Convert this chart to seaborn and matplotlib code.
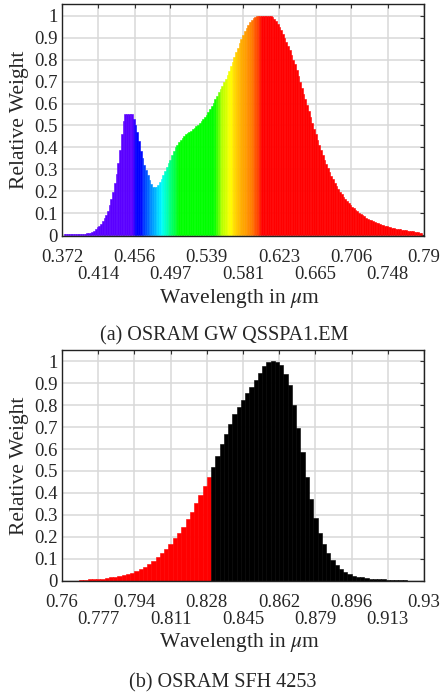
import numpy as np
import pandas as pd
import matplotlib
matplotlib.use("Agg")
import matplotlib.pyplot as plt
from matplotlib.colors import LinearSegmentedColormap, Normalize
import seaborn as sns

# ---------------- data ----------------
# (a) OSRAM GW QSSPA1.EM : 2 nm bins starting at 0.374 um
top_start = 0.374
top_step = 0.002
top_values = [
    0.004, 0.004, 0.004, 0.004, 0.004, 0.004, 0.005, 0.005, 0.005, 0.006,   # 0.374-0.392
    0.006, 0.007, 0.008, 0.009, 0.010, 0.012, 0.014, 0.021, 0.028, 0.036,   # 0.394-0.412
    0.044, 0.053, 0.065, 0.078, 0.093, 0.112, 0.136, 0.165, 0.197, 0.236,   # 0.414-0.432
    0.278, 0.330, 0.388, 0.460, 0.520, 0.552, 0.552, 0.552, 0.552, 0.552,   # 0.434-0.452
    0.530, 0.500, 0.470, 0.430, 0.385, 0.350, 0.320, 0.298, 0.275, 0.252,   # 0.454-0.472
    0.235, 0.222, 0.218, 0.222, 0.230, 0.242, 0.258, 0.275, 0.293, 0.312,   # 0.474-0.492
    0.328, 0.345, 0.366, 0.385, 0.400, 0.413, 0.425, 0.436, 0.445, 0.453,   # 0.494-0.512
    0.459, 0.465, 0.470, 0.475, 0.482, 0.489, 0.496, 0.503, 0.511, 0.520,   # 0.514-0.532
    0.528, 0.537, 0.548, 0.562, 0.577, 0.590, 0.604, 0.620, 0.636, 0.651,   # 0.534-0.552
    0.667, 0.682, 0.697, 0.713, 0.730, 0.748, 0.770, 0.791, 0.812, 0.833,   # 0.554-0.572
    0.854, 0.875, 0.895, 0.913, 0.929, 0.945, 0.958, 0.970, 0.980, 0.988,   # 0.574-0.592
    0.995, 0.999, 1.000, 1.000, 1.000, 1.000, 1.000, 1.000, 1.000, 0.997,   # 0.594-0.612
    0.992, 0.985, 0.975, 0.963, 0.950, 0.933, 0.916, 0.900, 0.880, 0.862,   # 0.614-0.632
    0.845, 0.823, 0.800, 0.778, 0.752, 0.725, 0.698, 0.672, 0.645, 0.620,   # 0.634-0.652
    0.595, 0.568, 0.540, 0.512, 0.486, 0.460, 0.434, 0.410, 0.388, 0.366,   # 0.654-0.672
    0.345, 0.325, 0.306, 0.288, 0.271, 0.255, 0.240, 0.226, 0.212, 0.198,   # 0.674-0.692
    0.186, 0.175, 0.165, 0.156, 0.147, 0.139, 0.131, 0.124, 0.117, 0.110,   # 0.694-0.712
    0.103, 0.097, 0.091, 0.086, 0.081, 0.076, 0.072, 0.068, 0.064, 0.060,   # 0.714-0.732
    0.057, 0.054, 0.051, 0.048, 0.045, 0.043, 0.041, 0.039, 0.037, 0.035,   # 0.734-0.752
    0.033, 0.031, 0.030, 0.028, 0.027, 0.025, 0.024, 0.023, 0.022, 0.020,   # 0.754-0.772
    0.019, 0.018, 0.016, 0.015, 0.013, 0.011, 0.009,                        # 0.774-0.786
]
top_ticks = [0.372, 0.414, 0.456, 0.497, 0.539, 0.581, 0.623, 0.665, 0.706, 0.748, 0.79]
top_tick_labels = ["0.372", "0.414", "0.456", "0.497", "0.539", "0.581",
                   "0.623", "0.665", "0.706", "0.748", "0.79"]

# (b) OSRAM SFH 4253 : 2 nm bins starting at 0.768 um
bot_start = 0.768
bot_step = 0.002
bot_values = [
    0.003, 0.004, 0.005, 0.006, 0.008, 0.009, 0.011, 0.014, 0.017, 0.021,   # 0.768-0.786
    0.024, 0.029, 0.035, 0.042, 0.052, 0.062, 0.074, 0.088, 0.108, 0.127,   # 0.788-0.806
    0.145, 0.167, 0.192, 0.218, 0.245, 0.279, 0.312, 0.353, 0.389, 0.430,   # 0.808-0.826
    0.474, 0.518, 0.567, 0.623, 0.670, 0.715, 0.758, 0.791, 0.824, 0.855,   # 0.828-0.846
    0.882, 0.915, 0.945, 0.979, 0.995, 1.000, 0.995, 0.983, 0.942, 0.892,   # 0.848-0.866
    0.800, 0.698, 0.585, 0.473, 0.373, 0.286, 0.218, 0.167, 0.127, 0.095,   # 0.868-0.886
    0.071, 0.053, 0.041, 0.030, 0.023, 0.018, 0.015, 0.012, 0.009, 0.008,   # 0.888-0.906
    0.006, 0.005, 0.004, 0.003, 0.003, 0.002, 0.002,                        # 0.908-0.920
]
bot_red_limit = 0.830
bot_ticks = [0.76, 0.777, 0.794, 0.811, 0.828, 0.845, 0.862, 0.879, 0.896, 0.913, 0.93]
bot_tick_labels = ["0.76", "0.777", "0.794", "0.811", "0.828", "0.845",
                   "0.862", "0.879", "0.896", "0.913", "0.93"]

y_ticks = [0, 0.1, 0.2, 0.3, 0.4, 0.5, 0.6, 0.7, 0.8, 0.9, 1.0]
y_tick_labels = ["0", "0.1", "0.2", "0.3", "0.4", "0.5", "0.6", "0.7", "0.8", "0.9", "1"]

# wavelength -> colour (styling)
spectrum_stops = [
    (0.372, "#5a00ff"), (0.4545, "#5a00ff"), (0.4555, "#0000ff"), (0.462, "#0000ff"),
    (0.470, "#0060ff"), (0.487, "#00ffff"), (0.507, "#00ff00"), (0.548, "#00ff00"),
    (0.556, "#b0ff00"), (0.566, "#ffff00"), (0.575, "#ffc000"), (0.590, "#ff8000"),
    (0.600, "#ff3000"), (0.602, "#ff0000"), (0.79, "#ff0000"),
]

# ---------------- style ----------------
sns.set_style("white")
plt.rcParams["font.family"] = ["Liberation Serif", "DejaVu Serif"]
plt.rcParams["mathtext.fontset"] = "stix"

TICK_FS = 13.5
LABEL_FS = 15.5
CAP_FS = 14.5

fig = plt.figure(figsize=(4.41, 6.93), dpi=100)
ax1 = fig.add_axes([62 / 441, 1 - 236 / 693, 362 / 441, 232 / 693])
ax2 = fig.add_axes([62 / 441, 1 - 581 / 693, 362 / 441, 231 / 693])

lo, hi = spectrum_stops[0][0], spectrum_stops[-1][0]
cmap = LinearSegmentedColormap.from_list(
    "spec", [((w - lo) / (hi - lo), c) for w, c in spectrum_stops], N=1024)
norm = Normalize(lo, hi)


def draw(ax, start, step, values, colour_fn):
    n = len(values)
    centers = start + step * (np.arange(n) + 0.5)
    df = pd.DataFrame({"wl": centers, "w": values})
    sns.histplot(data=df, x="wl", weights="w", binwidth=step,
                 binrange=(start, start + n * step), ax=ax,
                 stat="count", element="bars", fill=True, alpha=1,
                 linewidth=0)
    for p in ax.patches:
        xc = p.get_x() + p.get_width() / 2
        col = colour_fn(xc)
        p.set_facecolor(col)
        p.set_edgecolor(col)
        p.set_linewidth(0.4)


draw(ax1, top_start, top_step, top_values, lambda x: cmap(norm(x)))
draw(ax2, bot_start, bot_step, bot_values,
     lambda x: "#ff0000" if x < bot_red_limit else "#000000")


def style_axis(ax, ticks, labels, xlim, ylim):
    ax.set_xlim(*xlim)
    ax.set_ylim(*ylim)
    ax.set_xticks(ticks[0::2])
    ax.set_xticklabels(labels[0::2])
    ax.set_xticks(ticks[1::2], minor=True)
    ax.set_xticklabels(labels[1::2], minor=True)
    ax.set_yticks(y_ticks)
    ax.set_yticklabels(y_tick_labels)
    ax.tick_params(axis="both", which="both", direction="in", length=3, width=0.8,
                   top=True, right=True, labelsize=TICK_FS, color="#333333")
    ax.tick_params(axis="x", which="major", pad=9.5)
    ax.tick_params(axis="x", which="minor", pad=21.5)
    ax.tick_params(axis="y", pad=3.0)
    ax.grid(True, which="both", color="#d8d8d8", linewidth=1.1)
    ax.set_axisbelow(True)
    for s in ax.spines.values():
        s.set_visible(True)
        s.set_color("#222222")
        s.set_linewidth(1.0)
    ax.set_xlabel(r"Wavelength in $\mu$m", fontsize=LABEL_FS)
    ax.xaxis.label.set_va("center")
    ax.xaxis.set_label_coords(0.49, -0.268)
    ax.set_ylabel("Relative Weight", fontsize=LABEL_FS)
    ax.yaxis.label.set_va("center")
    ax.yaxis.set_label_coords(-0.118, 0.5)


style_axis(ax1, top_ticks, top_tick_labels, (0.372, 0.79), (-0.003, 1.053))
style_axis(ax2, bot_ticks, bot_tick_labels, (0.76, 0.93), (-0.002, 1.052))

fig.text(224 / 441, 1 - 336 / 693, "(a) OSRAM GW QSSPA1.EM", ha="center", va="center",
         fontsize=CAP_FS)
fig.text(223 / 441, 1 - 683 / 693, "(b) OSRAM SFH 4253", ha="center", va="center",
         fontsize=CAP_FS)

fig.savefig("out.png", dpi=100)
